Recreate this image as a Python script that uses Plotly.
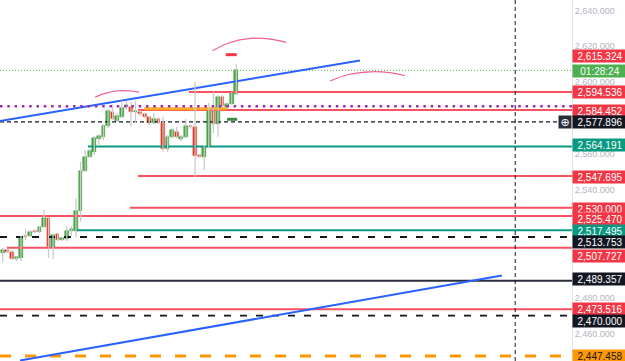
import plotly.graph_objects as go

# ---------------- data ----------------
bar_open = [2505.01, 2506.51, 2505.57, 2501.50, 2501.89, 2514.31, 2514.48, 2516.99, 2516.38, 2519.49,
            2524.17, 2508.35, 2515.26, 2512.09, 2512.48, 2517.10, 2517.27, 2528.24, 2550.53, 2558.16,
            2561.28, 2568.52, 2569.63, 2575.60, 2583.56, 2578.55, 2580.78, 2586.01, 2586.35, 2583.23,
            2583.56, 2582.28, 2580.44, 2577.10, 2579.50, 2577.43, 2562.62, 2569.63, 2572.42, 2568.18,
            2569.63, 2575.76, 2574.87, 2559.16, 2558.49, 2564.06, 2585.07, 2576.54, 2591.92, 2586.01,
            2587.85, 2593.42]
bar_high = [2507.63, 2507.07, 2506.51, 2502.78, 2514.31, 2518.21, 2517.66, 2518.21, 2519.89, 2528.80,
            2524.90, 2515.43, 2515.99, 2513.76, 2519.89, 2519.89, 2535.48, 2555.71, 2562.22, 2562.78,
            2570.02, 2571.14, 2576.71, 2585.07, 2587.29, 2582.84, 2589.69, 2589.69, 2589.13, 2589.69,
            2584.51, 2582.84, 2581.17, 2582.84, 2580.61, 2580.78, 2570.58, 2574.48, 2575.04, 2570.58,
            2579.50, 2576.71, 2600.27, 2560.00, 2565.01, 2588.41, 2594.70, 2592.87, 2592.87, 2587.85,
            2594.54, 2609.97]
bar_low = [2499.83, 2504.84, 2500.94, 2500.39, 2500.39, 2512.09, 2513.76, 2515.99, 2515.99, 2519.33,
           2502.06, 2501.50, 2511.53, 2511.53, 2511.53, 2514.31, 2513.76, 2522.28, 2549.97, 2557.77,
           2559.44, 2564.45, 2567.80, 2574.48, 2578.94, 2577.82, 2580.05, 2584.51, 2575.21, 2577.27,
           2581.17, 2580.05, 2576.15, 2576.71, 2576.71, 2561.28, 2561.11, 2568.74, 2568.74, 2567.24,
           2568.74, 2573.92, 2547.35, 2557.77, 2551.08, 2563.34, 2571.70, 2569.63, 2586.18, 2585.62,
           2587.29, 2592.87]
bar_close = [2506.51, 2505.57, 2501.50, 2502.23, 2513.59, 2513.59, 2516.38, 2516.32, 2519.16, 2524.17,
             2508.35, 2514.87, 2512.09, 2513.03, 2517.10, 2517.94, 2528.41, 2550.53, 2558.49, 2561.67,
             2568.74, 2570.02, 2575.60, 2584.12, 2579.33, 2581.17, 2585.79, 2587.13, 2583.23, 2584.12,
             2582.28, 2580.44, 2577.10, 2579.50, 2577.43, 2562.62, 2569.63, 2573.37, 2569.63, 2569.63,
             2575.76, 2574.87, 2558.88, 2558.60, 2564.06, 2585.07, 2576.54, 2591.92, 2586.74, 2587.85,
             2593.81, 2606.79]
bar_index = list(range(len(bar_open)))

# horizontal levels: price, first bar index where the line starts
level_price = [2594.536, 2584.452, 2564.191, 2547.695, 2530.000, 2525.470, 2517.495,
               2513.753, 2507.727, 2489.357, 2473.516, 2470.000, 2447.458]
level_start = [40.68, 29.54, 18.62, 29.54, 27.79, -0.59, 16.22,
               -0.59, 0.94, -0.59, -0.59, -0.59, -0.59]
level_kind = ["red", "red", "teal", "red", "red", "red", "teal",
              "blackdash", "red", "black", "red", "blackdash", "orange"]

purple_level = 2586.57
entry_level = 2577.896
entry_end = 121.3
price_line = 2606.63
countdown_text = "01:28:24"

orange_zone_price = 2585.2
orange_zone_x = [30.9, 49.0]
red_mark_price = 2615.324
red_mark_x = [48.7, 51.1]
green_mark_price = 2579.33
green_mark_x = [49.0, 51.2]

trend_up_x = [-0.59, 78.0]
trend_up_y = [2578.38, 2612.09]
trend_low_x = [3.78, 109.0]
trend_low_y = [2444.95, 2492.31]

arc1_x = [20.15, 22.5, 25.6, 28.0, 29.8]
arc1_y = [2591.6, 2593.9, 2595.3, 2595.1, 2594.5]
arc2_x = [45.8, 49.5, 54.0, 58.5, 61.9]
arc2_y = [2617.5, 2622.0, 2624.4, 2624.0, 2622.2]
arc3_x = [71.5, 75.5, 80.2, 84.5, 87.8]
arc3_y = [2600.7, 2604.3, 2605.8, 2605.3, 2603.6]

time_marker = 111.9

# grid prices whose labels are not covered by price-scale labels
tick_vals = [2460, 2480, 2540, 2560, 2600, 2620, 2640]

# axis labels on the price scale: price, kind, pixel nudge
label_price = [2615.324, price_line, 2594.536, 2584.452, 2577.896, 2564.191, 2547.695,
               2530.000, 2525.470, 2517.495, 2513.753, 2507.727, 2489.357, 2473.516,
               2470.000, 2447.458]
label_kind = ["red", "green", "red", "red", "black", "teal", "red", "red", "red", "teal",
              "black", "red", "black", "red", "black", "orange"]
label_nudge = [-1.3, -1.2, 0, -0.9, 0, 1, -0.9, -0.7, -3.5, -0.7, -5, -7.7, 1.8, 0.7, -5, 0.5]

# ---------------- styles ----------------
X_MIN, X_MAX = -0.59, 124.3
Y_MIN, Y_MAX = 2444.67, 2645.79
RED = "#f7525f"
TEAL = "#089981"
BLACK = "#131722"
ORANGE = "#ff9800"
BLUE = "#2962ff"
PINK = "#f06292"
line_style = {
    "red": dict(color=RED, width=2),
    "teal": dict(color=TEAL, width=2),
    "black": dict(color="#2a2e39", width=2),
    "blackdash": dict(color=BLACK, width=1.8, dash="7px,9px"),
    "orange": dict(color=ORANGE, width=3, dash="11px,14px"),
}
label_bg = {"red": "#f23645", "teal": TEAL, "black": BLACK, "green": "#4caf50", "orange": ORANGE}
label_fg = {"red": "white", "teal": "white", "black": "white", "green": "white", "orange": BLACK}

fig = go.Figure()

# levels
for p, s, k in zip(level_price, level_start, level_kind):
    fig.add_trace(go.Scatter(x=[s, X_MAX], y=[p, p], mode="lines", line=line_style[k],
                             hoverinfo="skip", showlegend=False))

fig.add_trace(go.Scatter(x=[X_MIN, X_MAX], y=[price_line, price_line], mode="lines",
                         line=dict(color="#4caf50", width=1, dash="1px,2px"),
                         hoverinfo="skip", showlegend=False))
fig.add_trace(go.Scatter(x=[X_MIN, entry_end], y=[entry_level, entry_level], mode="lines",
                         line=dict(color=BLACK, width=1.2, dash="4px,3px"),
                         hoverinfo="skip", showlegend=False))
fig.add_trace(go.Scatter(x=orange_zone_x, y=[orange_zone_price] * 2, mode="lines",
                         line=dict(color="#ffa726", width=3), hoverinfo="skip", showlegend=False))

# trend lines
fig.add_trace(go.Scatter(x=trend_up_x, y=trend_up_y, mode="lines", line=dict(color=BLUE, width=2),
                         hoverinfo="skip", showlegend=False))
fig.add_trace(go.Scatter(x=trend_low_x, y=trend_low_y, mode="lines", line=dict(color=BLUE, width=2),
                         hoverinfo="skip", showlegend=False))

# candles: wicks then bodies
wx, wy = [], []
for i, h, l in zip(bar_index, bar_high, bar_low):
    wx += [i, i, None]
    wy += [l, h, None]
fig.add_trace(go.Scatter(x=wx, y=wy, mode="lines", line=dict(color="#c9c9c9", width=1.3),
                         hoverinfo="skip", showlegend=False))
base, height, fill, edge = [], [], [], []
for o, c in zip(bar_open, bar_close):
    base.append(min(o, c))
    height.append(max(abs(c - o), 0.9))
    up = c >= o
    fill.append("#43a83f" if up else "#e3261b")
    edge.append("#3a9a3a" if up else "#f29a74")
fig.add_trace(go.Bar(x=bar_index, y=height, base=base, width=0.8,
                     marker=dict(color=fill, line=dict(color=edge, width=0.5)),
                     hoverinfo="skip", showlegend=False))

# purple dotted level on top
fig.add_trace(go.Scatter(x=[X_MIN, X_MAX], y=[purple_level] * 2, mode="lines",
                         line=dict(color="#9c27b0", width=2.5, dash="2.5px,4.8px"),
                         hoverinfo="skip", showlegend=False))

# marks
fig.add_trace(go.Scatter(x=red_mark_x, y=[red_mark_price] * 2, mode="lines",
                         line=dict(color="#f23645", width=3), hoverinfo="skip", showlegend=False))
fig.add_trace(go.Scatter(x=green_mark_x, y=[green_mark_price] * 2, mode="lines",
                         line=dict(color="#3d8b40", width=3), hoverinfo="skip", showlegend=False))

# arcs
for ax_, ay_ in [(arc1_x, arc1_y), (arc2_x, arc2_y), (arc3_x, arc3_y)]:
    fig.add_trace(go.Scatter(x=ax_, y=ay_, mode="lines", line=dict(color=PINK, width=1.2, shape="spline"),
                             hoverinfo="skip", showlegend=False))

# time marker
fig.add_shape(type="line", xref="x", yref="paper", x0=time_marker, x1=time_marker, y0=0, y1=1,
              line=dict(color=BLACK, width=1, dash="4px,3px"))

# price scale labels
for p, k, n in zip(label_price, label_kind, label_nudge):
    txt = countdown_text if k == "green" else f"{p:,.3f}"
    fig.add_annotation(xref="paper", x=1.0, xanchor="left", yref="y", y=p, yshift=n,
                       text=txt, showarrow=False, bgcolor=label_bg[k], width=53, height=11,
                       borderpad=0.5, align="center",
                       font=dict(family="Liberation Sans, Arial", size=10, color=label_fg[k]))
fig.add_annotation(xref="paper", x=1.0, xanchor="right", yref="y", y=entry_level, text="⊕",
                   showarrow=False, bgcolor="#2a2e39", width=11, height=11, borderpad=0.5,
                   font=dict(family="DejaVu Sans", size=11, color="white"))

fig.update_layout(
    width=625, height=361, margin=dict(l=0, r=53, t=0, b=0),
    plot_bgcolor="white", paper_bgcolor="white", bargap=0, barmode="overlay",
    xaxis=dict(range=[X_MIN, X_MAX], visible=False, fixedrange=True),
    yaxis=dict(range=[Y_MIN, Y_MAX], side="right", tickvals=tick_vals,
               ticktext=[f"{v:,.3f}" for v in tick_vals], showgrid=False, zeroline=False,
               showline=True, linecolor="#e0e3eb", linewidth=1, ticks="",
               tickfont=dict(family="Liberation Sans, Arial", size=9, color="#b2b5be")),
)

fig.write_html("out.html")
